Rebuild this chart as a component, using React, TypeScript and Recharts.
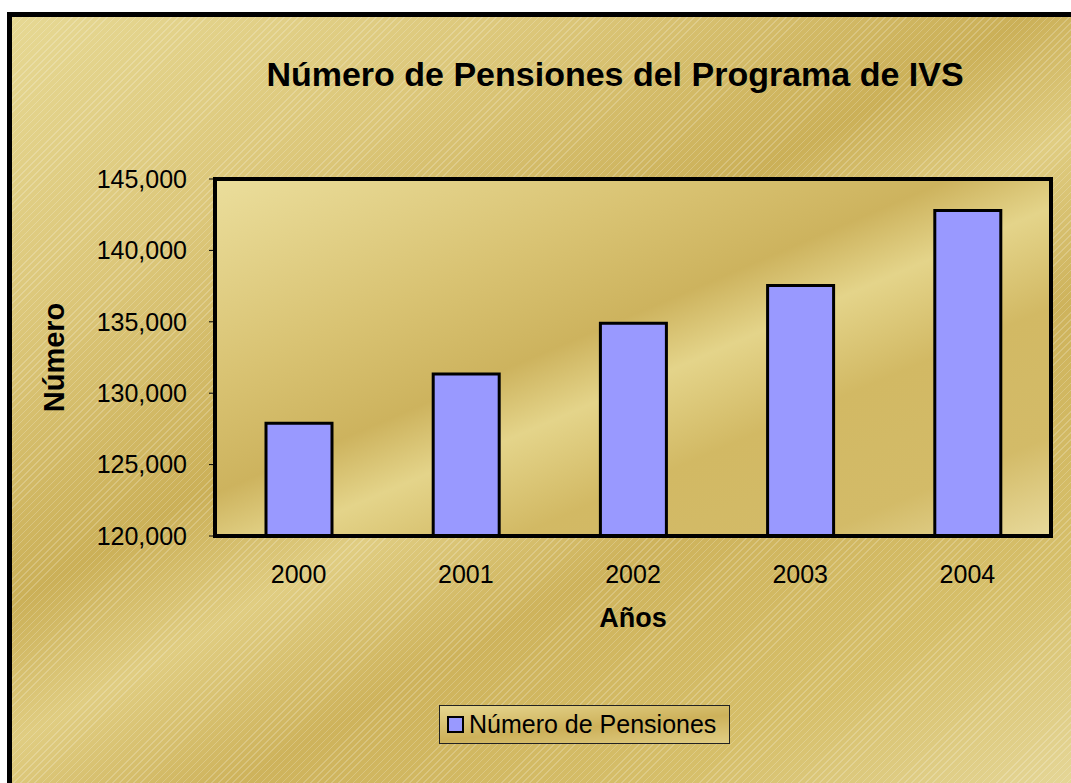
import type { JSX } from "react";

import { Bar, BarChart, Legend, ReferenceArea, XAxis, YAxis } from "recharts";

const years = ["2000", "2001", "2002", "2003", "2004"];
const pensions = [127900, 131350, 134900, 137550, 142800];
const yTicks = [120000, 125000, 130000, 135000, 140000, 145000];
const edgeTicks = [0, 1, 2, 3, 4, 5];

const chartData = years.map((year, i) => ({ year, pensions: pensions[i], idx: i + 0.5 }));

const font = "'Liberation Sans', Arial, sans-serif";

const outerBg = [
	"repeating-linear-gradient(-45deg, rgba(255,255,255,0.2) 0px, rgba(255,255,255,0.2) 1px, rgba(255,255,255,0) 1px, rgba(255,255,255,0) 5px)",
	"linear-gradient(150deg, #e6d893 0%, #dcc77a 22%, #cbb058 42%, #e0cd82 52%, #ceb35c 64%, #d6bf6a 82%, #e6d89a 100%)",
].join(", ");

function LegendBox(): JSX.Element {
	return (
		<div
			style={{
				alignItems: "center",
				background: "linear-gradient(175deg, #e6d690 0%, #cdb15a 55%, #e0cd84 100%)",
				border: "1.5px solid #222",
				boxSizing: "border-box",
				display: "flex",
				fontFamily: font,
				fontSize: 25,
				height: 39,
				paddingLeft: 7,
				width: 291,
			}}
		>
			<span style={{ background: "#9999ff", border: "2px solid #000", boxSizing: "border-box", display: "inline-block", height: 17, marginRight: 5, width: 17 }} />
			<span>Número de Pensiones</span>
		</div>
	);
}

export default function App(): JSX.Element {
	return (
		<div
			style={{
				background: outerBg,
				border: "5px solid #000",
				boxSizing: "border-box",
				height: 790,
				left: 7,
				position: "fixed",
				top: 12,
				width: 1080,
			}}
		>
			<div
				style={{
					fontFamily: font,
					fontSize: 34,
					fontWeight: "bold",
					left: 603,
					position: "absolute",
					top: 57,
					transform: "translate(-50%, -50%)",
					whiteSpace: "nowrap",
				}}
			>
				Número de Pensiones del Programa de IVS
			</div>
			<BarChart data={chartData} height={766} margin={{ bottom: 108, left: 33, right: 21, top: 162 }} style={{ fontFamily: font }} width={1060}>
				<defs>
					<linearGradient id="plotBg" x1="0" x2="1" y1="0" y2="1">
						<stop offset="0" stopColor="#ebde9c" />
						<stop offset="0.28" stopColor="#d9c373" />
						<stop offset="0.44" stopColor="#cdb35e" />
						<stop offset="0.54" stopColor="#e4d48a" />
						<stop offset="0.68" stopColor="#d2b964" />
						<stop offset="0.86" stopColor="#d3bb68" />
						<stop offset="1" stopColor="#e8da9c" />
					</linearGradient>
				</defs>
				<ReferenceArea fill="url(#plotBg)" fillOpacity={1} ifOverflow="visible" stroke="#000" strokeWidth={4} y1={120000} y2={145000} />
				<XAxis
					axisLine={false}
					dataKey="idx"
					domain={[0, 5]}
					height={0}
					tick={false}
					tickLine={{ stroke: "#000" }}
					tickSize={6}
					ticks={edgeTicks}
					type="number"
					xAxisId="edges"
				/>
				<XAxis
					axisLine={{ stroke: "#000", strokeWidth: 4 }}
					dataKey="year"
					height={100}
					label={{ fill: "#000", fontSize: 27, fontWeight: "bold", offset: 9, position: "insideBottom", value: "Años" }}
					tick={{ fill: "#000", fontSize: 25 }}
					tickLine={false}
					tickMargin={29}
					tickSize={0}
				/>
				<YAxis
					axisLine={{ stroke: "#000", strokeWidth: 4 }}
					domain={[120000, 145000]}
					label={{ angle: -90, fill: "#000", fontSize: 29, fontWeight: "bold", offset: 9, position: "insideLeft", style: { textAnchor: "middle" }, value: "Número" }}
					tick={{ fill: "#000", fontSize: 25 }}
					tickFormatter={(v) => Number(v).toLocaleString("en-US")}
					tickLine={{ stroke: "#000" }}
					tickMargin={22}
					tickSize={6}
					ticks={yTicks}
					type="number"
					width={170}
				/>
				<Legend content={() => <LegendBox />} wrapperStyle={{ height: 39, left: 427, top: 688, width: 291 }} />
				<Bar barSize={66} dataKey="pensions" fill="#9999ff" isAnimationActive={false} name="Número de Pensiones" stroke="#000" strokeWidth={3} />
			</BarChart>
		</div>
	);
}
